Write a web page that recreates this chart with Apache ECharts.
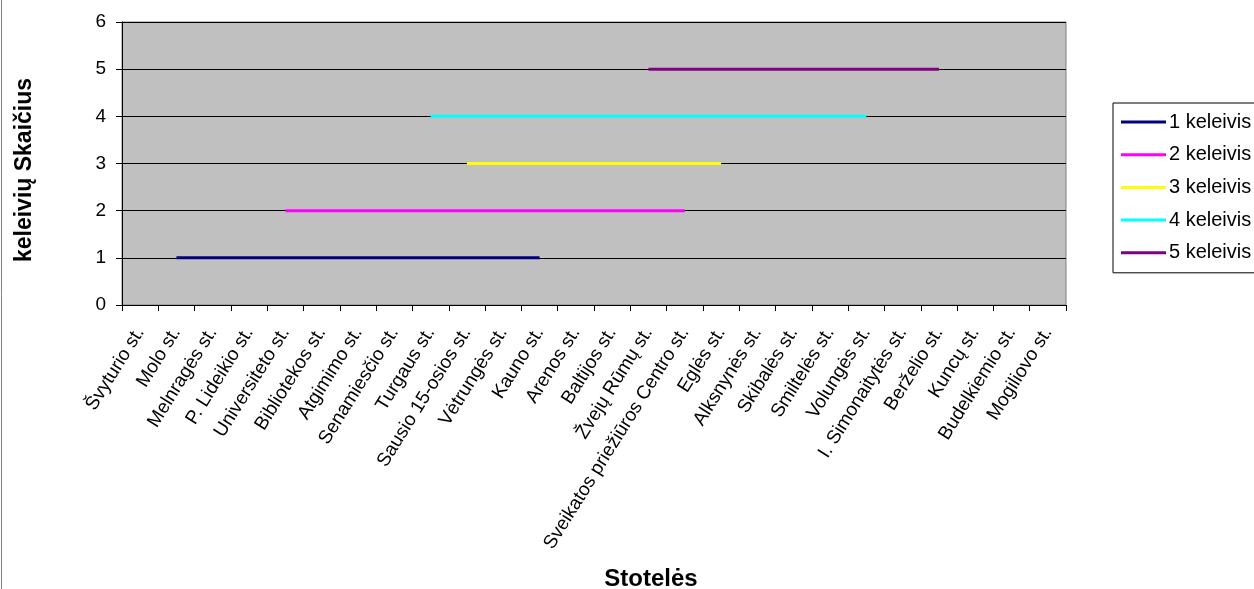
<!DOCTYPE html>
<html>
<head>
<meta charset="utf-8">
<script src="https://cdn.jsdelivr.net/npm/echarts@6/dist/echarts.min.js"></script>
<style>
html,body{margin:0;padding:0;background:#fff;}
#c{width:1254px;height:589px;}
</style>
</head>
<body>
<div id="c"></div>
<script>
const stops = ["Švyturio st.","Molo st.","Melnragės st.","P. Lideikio st.","Universiteto st.","Bibliotekos st.","Atgimimo st.","Senamiesčio st.","Turgaus st.","Sausio 15-osios st.","Vėtrungės st.","Kauno st.","Arenos st.","Baltijos st.","Žvejų Rūmų st.","Sveikatos priežiūros Centro st.","Eglės st.","Alksnynės st.","Skibalės st.","Smiltelės st.","Volungės st.","I. Simonaitytės st.","Berželio st.","Kuncų st.","Budelkiemio st.","Mogiliovo st."];
const yTicks = [0,1,2,3,4,5,6];
const _ = null;
const s1 = [_,1,1,1,1,1,1,1,1,1,1,1,_,_,_,_,_,_,_,_,_,_,_,_,_,_];
const s2 = [_,_,_,_,2,2,2,2,2,2,2,2,2,2,2,2,_,_,_,_,_,_,_,_,_,_];
const s3 = [_,_,_,_,_,_,_,_,_,3,3,3,3,3,3,3,3,_,_,_,_,_,_,_,_,_];
const s4 = [_,_,_,_,_,_,_,_,4,4,4,4,4,4,4,4,4,4,4,4,4,_,_,_,_,_];
const s5 = [_,_,_,_,_,_,_,_,_,_,_,_,_,_,5,5,5,5,5,5,5,5,5,_,_,_];
const seriesNames = ["1 keleivis","2 keleivis","3 keleivis","4 keleivis","5 keleivis"];
const colors = ["#000080","#FF00FF","#FFFF00","#00FFFF","#800080"];
const allData = [s1,s2,s3,s4,s5];

const chart = echarts.init(document.getElementById('c'));
const font = 'Arial, "Liberation Sans", sans-serif';
chart.setOption({
  animation:false,
  textStyle:{fontFamily:font},
  grid:{left:122,right:188,top:22,bottom:284,show:true,backgroundColor:'#C0C0C0',borderColor:'#808080',borderWidth:1},
  legend:{
    orient:'vertical',left:1113,top:103,
    data:seriesNames.map((n,i)=>({name:n,icon:'rect',itemStyle:{color:colors[i]}})),
    itemWidth:45,itemHeight:3,itemGap:12.7,
    textStyle:{fontSize:20,color:'#000',lineHeight:20,fontFamily:font,padding:[0,0,0,-2]},
    borderColor:'#000',borderWidth:1,padding:[9,30,10,8],backgroundColor:'#fff'
  },
  xAxis:{
    type:'category',data:stops,boundaryGap:true,
    axisLine:{lineStyle:{color:'#000',width:1}},
    axisTick:{show:true,alignWithLabel:false,length:6,lineStyle:{color:'#000'}},
    axisLabel:{rotate:58,fontSize:19,color:'#000',interval:0,margin:24,fontFamily:font},
    splitLine:{show:false}
  },
  yAxis:{
    type:'value',min:0,max:6,interval:1,
    axisLine:{show:true,lineStyle:{color:'#000'}},
    axisTick:{show:true,length:6,lineStyle:{color:'#000'}},
    axisLabel:{fontSize:19,color:'#000',margin:16,fontFamily:font},
    splitLine:{show:true,lineStyle:{color:'#000',width:1}}
  },
  graphic:[
    {type:'line',shape:{x1:1.5,y1:0,x2:1.5,y2:589},style:{stroke:'#808080',lineWidth:1}},
    {type:'text',x:25,y:170,rotation:Math.PI/2,style:{text:'keleivių Skaičius',font:'bold 23px Arial, "Liberation Sans", sans-serif',fill:'#000',align:'center',verticalAlign:'middle'}},
    {type:'text',x:651,y:579,style:{text:'Stotelės',font:'bold 24px Arial, "Liberation Sans", sans-serif',fill:'#000',align:'center',verticalAlign:'middle'}}
  ],
  series:allData.map((d,i)=>({
    name:seriesNames[i],type:'line',data:d,symbol:'none',connectNulls:false,
    lineStyle:{color:colors[i],width:3},itemStyle:{color:colors[i]}
  }))
});
</script>
</body>
</html>
